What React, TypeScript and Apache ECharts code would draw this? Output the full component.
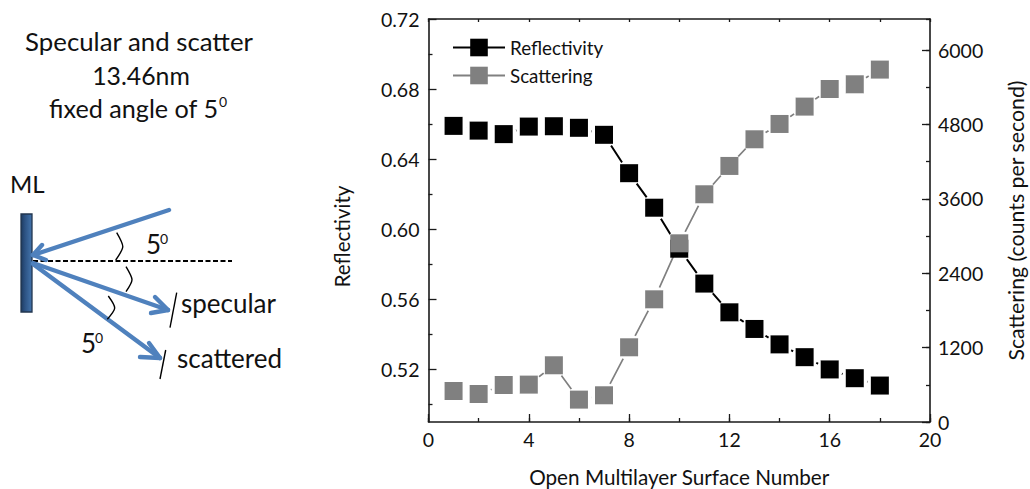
import React, { useEffect, useRef } from "react";
import * as echarts from "echarts";

const surfaceNumbers = [1, 2, 3, 4, 5, 6, 7, 8, 9, 10, 11, 12, 13, 14, 15, 16, 17, 18];
const reflectivity = [0.659, 0.6563, 0.6543, 0.6586, 0.6588, 0.6579, 0.6539, 0.632, 0.6123, 0.5889, 0.569, 0.5526, 0.5431, 0.5343, 0.527, 0.52, 0.515, 0.5108];
const scattering = [500, 452, 597, 603, 915, 361, 431, 1205, 1979, 2882, 3673, 4130, 4560, 4807, 5087, 5371, 5447, 5684];
const leftLabels = [0.52, 0.56, 0.6, 0.64, 0.68, 0.72];
const leftMinorTicks = [0.5, 0.54, 0.58, 0.62, 0.66, 0.7];
const FONT = "Lato";
const BLUE = "#4f81bd";
const INK = "#1a1a1a";
const TXT = "#111";

const blue = (x1: number, y1: number, x2: number, y2: number) => ({
  type: "line",
  shape: { x1, y1, x2, y2 },
  style: { stroke: BLUE, lineWidth: 4.4, lineCap: "round" },
});
const thin = (x1: number, y1: number, x2: number, y2: number) => ({
  type: "line",
  shape: { x1, y1, x2, y2 },
  style: { stroke: "#000", lineWidth: 1.4 },
});
const curve = (x1: number, y1: number, cpx1: number, cpy1: number, x2: number, y2: number) => ({
  type: "bezierCurve",
  shape: { x1, y1, cpx1, cpy1, cpx2: cpx1, cpy2: cpy1, x2, y2 },
  style: { stroke: "#000", lineWidth: 1.4, fill: "none" },
});
const label = (text: string, x: number, y: number, fontSize = 26, align = "left", rotation = 0) => ({
  type: "text",
  x,
  y,
  rotation,
  style: { text, x: 0, y: 0, fontFamily: FONT, fontSize, fill: TXT, align, verticalAlign: "middle" },
});

export default function App() {
  const ref = useRef<HTMLDivElement>(null);
  useEffect(() => {
    document.body.style.margin = "0";
    const chart = echarts.init(ref.current!, null, { renderer: "svg" });
    const axisLine = { show: true, onZero: false, lineStyle: { color: INK, width: 1.6 } };
    const tickStyle = { color: INK, width: 1.3 };
    const noLabels = { show: false };
    const noSplit = { show: false };
    const tickFont = { fontFamily: FONT, fontSize: 19.5, color: TXT };
    const refData = surfaceNumbers.map((n, i) => [n, reflectivity[i]]);
    const scaData = surfaceNumbers.map((n, i) => [n, scattering[i]]);
    const mask = (name: string, yAxisIndex: number, data: number[][], z: number) => ({
      name, type: "scatter", xAxisIndex: 0, yAxisIndex, data, z, silent: true,
      symbol: "circle", symbolSize: 26, itemStyle: { color: "#fff", opacity: 1 },
    });
    const marker = (name: string, yAxisIndex: number, data: number[][], z: number, color: string) => ({
      name, type: "scatter", xAxisIndex: 0, yAxisIndex, data, z, silent: true,
      symbol: "rect", symbolSize: 18, itemStyle: { color, opacity: 1 },
    });
    chart.setOption({
      animation: false,
      backgroundColor: "#fff",
      textStyle: { fontFamily: FONT },
      grid: { left: 428.5, right: 100, top: 19, bottom: 67, containLabel: false, outerBoundsMode: "none" },
      legend: {
        left: 452,
        top: 38,
        padding: 0,
        orient: "vertical",
        itemWidth: 52,
        itemHeight: 22,
        itemGap: 9,
        textStyle: { fontFamily: FONT, fontSize: 18.8, color: TXT },
        data: ["Reflectivity", "Scattering"],
      },
      xAxis: [
        {
          type: "value", position: "bottom", min: 0, max: 20, interval: 4,
          name: "Open Multilayer Surface Number", nameLocation: "middle", nameGap: 44,
          nameTextStyle: { fontFamily: FONT, fontSize: 20.7, color: TXT },
          axisLine, axisTick: { show: true, inside: true, length: 8, lineStyle: tickStyle },
          axisLabel: { ...tickFont, margin: 7 },
          splitLine: noSplit,
        },
        {
          type: "value", position: "bottom", min: 0, max: 20, interval: 2,
          axisLine: { show: false, onZero: false }, axisTick: { show: true, inside: true, length: 4, lineStyle: tickStyle },
          axisLabel: noLabels, splitLine: noSplit,
        },
        {
          type: "value", position: "top", min: 0, max: 20, interval: 2,
          axisLine, axisTick: { show: true, inside: true, length: 3, lineStyle: tickStyle },
          axisLabel: noLabels, splitLine: noSplit,
        },
      ],
      yAxis: [
        {
          type: "value", position: "left", min: 0.49, max: 0.72,
          axisLine,
          axisTick: { show: true, inside: true, length: 8, lineStyle: tickStyle, customValues: leftLabels },
          axisLabel: { ...tickFont, margin: 9, customValues: leftLabels, formatter: (v: number) => v.toFixed(2) },
          splitLine: noSplit,
        },
        {
          type: "value", position: "left", min: 0.49, max: 0.72,
          axisLine: { show: false, onZero: false },
          axisTick: { show: true, inside: true, length: 4, lineStyle: tickStyle, customValues: leftMinorTicks },
          axisLabel: noLabels, splitLine: noSplit,
        },
        {
          type: "value", position: "right", min: 0, max: 6500, interval: 1200,
          name: "Scattering (counts per second)", nameLocation: "middle", nameGap: 75,
          nameRotate: 90,
          nameTextStyle: { fontFamily: FONT, fontSize: 21.3, color: TXT },
          axisLine, axisTick: { show: true, inside: true, length: 8, lineStyle: tickStyle },
          axisLabel: { ...tickFont, margin: 8, showMaxLabel: false, formatter: (v: number) => String(v) },
          splitLine: noSplit,
        },
        {
          type: "value", position: "right", min: 0, max: 6500, interval: 600,
          axisLine: { show: false, onZero: false }, axisTick: { show: true, inside: true, length: 4, lineStyle: tickStyle },
          axisLabel: noLabels, splitLine: noSplit,
        },
      ],
      series: [
        {
          name: "Reflectivity", type: "line", xAxisIndex: 0, yAxisIndex: 0, z: 2,
          data: refData, symbol: "rect", symbolSize: 18, showSymbol: true,
          lineStyle: { color: "#000", width: 2 }, itemStyle: { color: "#000" },
        },
        mask("Reflectivity gap", 0, refData, 3),
        {
          name: "Scattering", type: "line", xAxisIndex: 0, yAxisIndex: 2, z: 4,
          data: scaData, symbol: "rect", symbolSize: 18, showSymbol: true,
          lineStyle: { color: "#808080", width: 1.7 }, itemStyle: { color: "#808080" },
        },
        mask("Scattering gap", 2, scaData, 5),
        marker("Reflectivity points", 0, refData, 6, "#000"),
        marker("Scattering points", 2, scaData, 7, "#808080"),
      ],
      graphic: {
        elements: [
          label("Specular and scatter", 139, 41, 25.8, "center"),
          label("13.46nm", 141, 75, 24.8, "center"),
          label("fixed angle of 5", 49, 108, 25.2),
          label("0", 219, 101, 14),
          label("ML", 10, 183, 24),
          label("Reflectivity", 342, 236.5, 20.5, "center", Math.PI / 2),
          {
            type: "rect",
            shape: { x: 21, y: 214, width: 11, height: 98 },
            style: {
              fill: new echarts.graphic.LinearGradient(0, 0, 1, 0, [
                { offset: 0, color: "#1d3a5f" },
                { offset: 0.35, color: "#2c5282" },
                { offset: 1, color: "#4475ad" },
              ]),
              stroke: "#22364f",
              lineWidth: 1.3,
            },
          },
          {
            type: "line",
            shape: { x1: 33, y1: 261, x2: 232, y2: 261 },
            style: { stroke: "#000", lineWidth: 1.8, lineDash: [5, 2.5] },
          },
          blue(169, 210, 33, 255),
          blue(33, 255, 42, 245),
          blue(33, 255, 46, 260),
          blue(33, 263, 168, 310),
          blue(168, 310, 155, 297),
          blue(168, 310, 151, 313),
          blue(33, 264, 160, 358),
          blue(160, 358, 149, 343),
          blue(160, 358, 140, 357),
          thin(176.7, 292.7, 170, 327.7),
          thin(165.7, 350, 160, 379),
          curve(116.7, 232.7, 125, 247, 115.7, 260),
          curve(126, 266.7, 134, 280, 126, 291.7),
          curve(108.3, 296, 117, 308, 107.3, 319.3),
          label("5", 146, 244, 26),
          label("0", 160, 238, 14),
          label("5", 81, 343, 26),
          label("0", 95, 337, 14),
          label("specular", 181, 303, 26),
          label("scattered", 177, 358, 26),
        ],
      },
    });
    return () => chart.dispose();
  }, []);
  return <div ref={ref} style={{ width: 1030, height: 489 }} />;
}
